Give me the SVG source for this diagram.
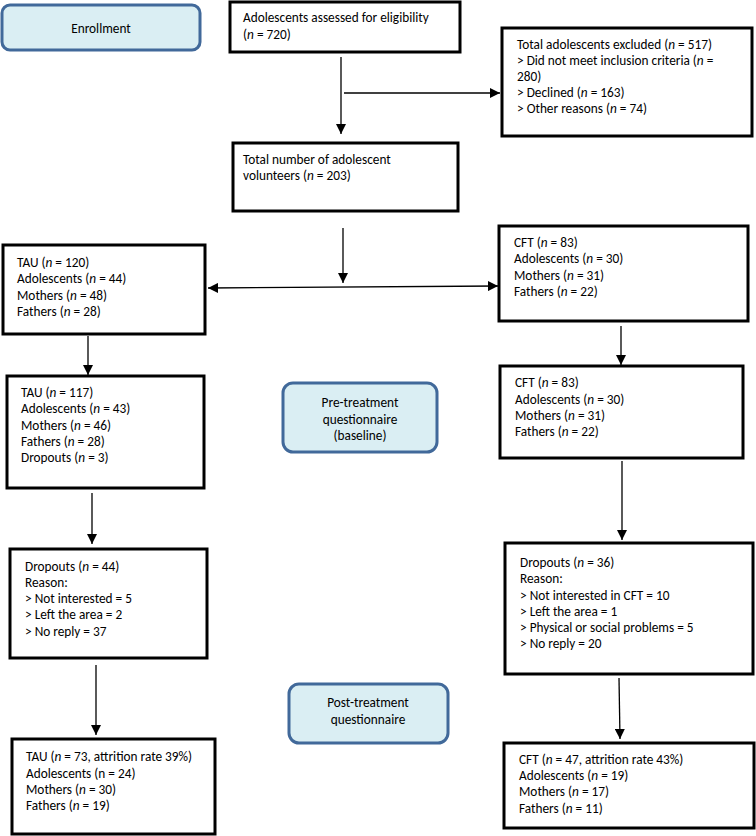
<svg xmlns="http://www.w3.org/2000/svg" width="756" height="836" viewBox="0 0 756 836">
<defs>
<marker id="ah" viewBox="0 0 10 10" refX="10" refY="5" markerWidth="10" markerHeight="10" markerUnits="userSpaceOnUse" orient="auto-start-reverse">
<path d="M0,0 L10,5 L0,10 Z" fill="#000"/>
</marker>
<style>
.box{fill:#fff;stroke:#000;stroke-width:3}
.stage{fill:#daeef3;stroke:#41699a;stroke-width:3}
text{font-family:Carlito,Lato,"Liberation Sans",sans-serif;font-size:13.3px;fill:#000}
.c{text-anchor:middle}
.con{stroke:#000;stroke-width:1.3;fill:none}
</style>
</defs>
<rect width="756" height="836" fill="#fff"/>

<g id="enrollment">
<rect class="stage" x="2" y="5" width="198" height="45" rx="8"/>
<text class="c" x="101" y="33">Enrollment</text>
</g>

<g id="assessed">
<rect class="box" x="230" y="2" width="230" height="50"/>
<text x="243" y="22">Adolescents assessed for eligibility</text>
<text x="243" y="39">(<tspan font-style="italic">n</tspan> = 720)</text>
</g>

<g id="excluded">
<rect class="box" x="502" y="28" width="250" height="108"/>
<text x="517" y="49">Total adolescents excluded (<tspan font-style="italic">n</tspan> = 517)</text>
<text x="517" y="65">&gt; Did not meet inclusion criteria (<tspan font-style="italic">n</tspan> =</text>
<text x="517" y="81">280)</text>
<text x="517" y="97">&gt; Declined (<tspan font-style="italic">n</tspan> = 163)</text>
<text x="517" y="113">&gt; Other reasons (<tspan font-style="italic">n</tspan> = 74)</text>
</g>

<g id="volunteers">
<rect class="box" x="233" y="143" width="225" height="68"/>
<text x="243" y="164">Total number of adolescent</text>
<text x="243" y="180">volunteers (<tspan font-style="italic">n</tspan> = 203)</text>
</g>

<g id="tau1">
<rect class="box" x="3" y="245" width="202" height="89"/>
<text x="17" y="267">TAU (<tspan font-style="italic">n</tspan> = 120)</text>
<text x="17" y="283">Adolescents (<tspan font-style="italic">n</tspan> = 44)</text>
<text x="17" y="300">Mothers (<tspan font-style="italic">n</tspan> = 48)</text>
<text x="17" y="316">Fathers (<tspan font-style="italic">n</tspan> = 28)</text>
</g>

<g id="cft1">
<rect class="box" x="499" y="226" width="249" height="95"/>
<text x="514" y="247">CFT (<tspan font-style="italic">n</tspan> = 83)</text>
<text x="514" y="263">Adolescents (<tspan font-style="italic">n</tspan> = 30)</text>
<text x="514" y="280">Mothers (<tspan font-style="italic">n</tspan> = 31)</text>
<text x="514" y="296">Fathers (<tspan font-style="italic">n</tspan> = 22)</text>
</g>

<g id="tau2">
<rect class="box" x="7" y="376" width="197" height="112"/>
<text x="21" y="397">TAU (<tspan font-style="italic">n</tspan> = 117)</text>
<text x="21" y="413">Adolescents (<tspan font-style="italic">n</tspan> = 43)</text>
<text x="21" y="430">Mothers (<tspan font-style="italic">n</tspan> = 46)</text>
<text x="21" y="446">Fathers (<tspan font-style="italic">n</tspan> = 28)</text>
<text x="21" y="462">Dropouts (<tspan font-style="italic">n</tspan> = 3)</text>
</g>

<g id="pretreatment">
<rect class="stage" x="283" y="383" width="154" height="69" rx="10"/>
<text class="c" x="360" y="407">Pre-treatment</text>
<text class="c" x="360" y="424">questionnaire</text>
<text class="c" x="360" y="440">(baseline)</text>
</g>

<g id="cft2">
<rect class="box" x="500" y="366" width="243" height="92"/>
<text x="515" y="387">CFT (<tspan font-style="italic">n</tspan> = 83)</text>
<text x="515" y="404">Adolescents (<tspan font-style="italic">n</tspan> = 30)</text>
<text x="515" y="420">Mothers (<tspan font-style="italic">n</tspan> = 31)</text>
<text x="515" y="436">Fathers (<tspan font-style="italic">n</tspan> = 22)</text>
</g>

<g id="tau-dropouts">
<rect class="box" x="10" y="549" width="197" height="109"/>
<text x="25" y="571">Dropouts (<tspan font-style="italic">n</tspan> = 44)</text>
<text x="25" y="587">Reason:</text>
<text x="25" y="603">&gt; Not interested = 5</text>
<text x="25" y="619">&gt; Left the area = 2</text>
<text x="25" y="636">&gt; No reply = 37</text>
</g>

<g id="cft-dropouts">
<rect class="box" x="505" y="543" width="248" height="131"/>
<text x="520" y="567">Dropouts (<tspan font-style="italic">n</tspan> = 36)</text>
<text x="520" y="583">Reason:</text>
<text x="520" y="600">&gt; Not interested in CFT = 10</text>
<text x="520" y="616">&gt; Left the area = 1</text>
<text x="520" y="632">&gt; Physical or social problems = 5</text>
<text x="520" y="648">&gt; No reply = 20</text>
</g>

<g id="posttreatment">
<rect class="stage" x="289" y="684" width="159" height="59" rx="10"/>
<text class="c" x="368" y="707">Post-treatment</text>
<text class="c" x="368" y="724">questionnaire</text>
</g>

<g id="tau-final">
<rect class="box" x="12" y="739" width="203" height="95"/>
<text x="26" y="761">TAU (<tspan font-style="italic">n</tspan> = 73, attrition rate 39%)</text>
<text x="26" y="778">Adolescents (n = 24)</text>
<text x="26" y="794">Mothers (<tspan font-style="italic">n</tspan> = 30)</text>
<text x="26" y="810">Fathers (<tspan font-style="italic">n</tspan> = 19)</text>
</g>

<g id="cft-final">
<rect class="box" x="504" y="743" width="250" height="85"/>
<text x="519" y="764">CFT (<tspan font-style="italic">n</tspan> = 47, attrition rate 43%)</text>
<text x="519" y="780">Adolescents (<tspan font-style="italic">n</tspan> = 19)</text>
<text x="519" y="796">Mothers (<tspan font-style="italic">n</tspan> = 17)</text>
<text x="519" y="813">Fathers (<tspan font-style="italic">n</tspan> = 11)</text>
</g>

<g id="connectors">
<line class="con" x1="341" y1="57" x2="341" y2="134" marker-end="url(#ah)"/>
<line class="con" x1="344" y1="93" x2="500" y2="93" marker-end="url(#ah)"/>
<line class="con" x1="343" y1="228" x2="343" y2="283" marker-end="url(#ah)"/>
<line class="con" x1="208" y1="288" x2="498" y2="286" marker-start="url(#ah)" marker-end="url(#ah)"/>
<line class="con" x1="88" y1="336" x2="88" y2="375" marker-end="url(#ah)"/>
<line class="con" x1="621" y1="326" x2="621" y2="365" marker-end="url(#ah)"/>
<line class="con" x1="92" y1="493" x2="92" y2="544" marker-end="url(#ah)"/>
<line class="con" x1="622" y1="461" x2="622" y2="540" marker-end="url(#ah)"/>
<line class="con" x1="96" y1="665" x2="96" y2="735" marker-end="url(#ah)"/>
<line class="con" x1="619" y1="678" x2="620" y2="739" marker-end="url(#ah)"/>
</g>
</svg>
